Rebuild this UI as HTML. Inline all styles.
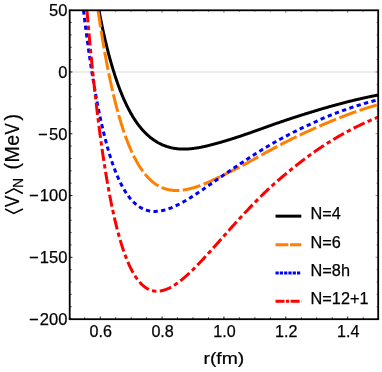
<!DOCTYPE html>
<html><head><meta charset="utf-8"><title>plot</title>
<style>html,body{margin:0;padding:0;background:#fff}svg{display:block;will-change:transform}text{font-family:"Liberation Sans",sans-serif;fill:#000;stroke:#000;stroke-width:0.25px}</style></head><body>
<svg width="382" height="372" viewBox="0 0 382 372">
<defs><clipPath id="c"><rect x="69.7" y="10.3" width="308.5" height="308.9"/></clipPath></defs>
<line x1="69.7" x2="378.2" y1="71.98" y2="71.98" stroke="#dcdcdc" stroke-width="1"/>
<g clip-path="url(#c)" fill="none" stroke-linejoin="round">
<path d="M98.94,10.30 L99.40,12.74 L99.87,15.15 L100.34,17.52 L100.80,19.85 L101.27,22.14 L101.74,24.40 L102.20,26.62 L102.67,28.80 L103.14,30.96 L103.61,33.07 L104.07,35.16 L104.54,37.21 L105.01,39.23 L105.47,41.22 L105.94,43.18 L106.41,45.10 L106.87,47.00 L107.34,48.87 L107.81,50.71 L108.27,52.52 L108.74,54.30 L109.21,56.06 L109.67,57.78 L110.14,59.48 L110.61,61.16 L111.08,62.81 L111.54,64.43 L112.01,66.03 L112.48,67.60 L112.94,69.15 L113.41,70.67 L113.88,72.17 L114.34,73.65 L114.81,75.10 L115.28,76.54 L115.74,77.95 L116.21,79.33 L116.68,80.70 L117.15,82.04 L117.61,83.37 L118.08,84.67 L118.55,85.95 L119.01,87.21 L119.48,88.45 L119.95,89.68 L120.41,90.88 L120.88,92.06 L121.35,93.23 L121.81,94.38 L122.28,95.50 L122.75,96.61 L123.21,97.71 L123.68,98.78 L124.15,99.84 L124.62,100.88 L125.08,101.90 L125.55,102.91 L126.02,103.90 L126.48,104.87 L126.95,105.83 L127.42,106.78 L127.88,107.70 L128.35,108.61 L128.82,109.51 L129.28,110.39 L129.75,111.26 L130.22,112.11 L130.68,112.95 L131.15,113.77 L131.62,114.58 L132.09,115.38 L132.55,116.16 L133.02,116.93 L133.49,117.69 L133.95,118.43 L134.42,119.16 L134.89,119.88 L135.35,120.58 L135.82,121.28 L136.29,121.96 L136.75,122.62 L137.22,123.28 L137.69,123.92 L138.15,124.56 L138.62,125.18 L139.09,125.79 L139.56,126.39 L140.02,126.97 L140.49,127.55 L140.96,128.12 L141.42,128.67 L141.89,129.22 L142.36,129.75 L142.82,130.28 L143.29,130.79 L143.76,131.29 L144.22,131.79 L144.69,132.27 L145.16,132.75 L145.63,133.22 L146.09,133.67 L146.56,134.12 L147.03,134.56 L147.49,134.99 L147.96,135.41 L148.43,135.82 L148.89,136.22 L149.36,136.62 L149.83,137.00 L150.29,137.38 L150.76,137.75 L151.23,138.12 L151.69,138.47 L152.16,138.82 L152.63,139.16 L153.10,139.50 L153.56,139.82 L154.03,140.14 L154.50,140.46 L154.96,140.76 L155.43,141.06 L155.90,141.36 L156.36,141.64 L156.83,141.92 L157.30,142.20 L157.76,142.47 L158.23,142.73 L158.70,142.98 L159.16,143.23 L159.63,143.47 L160.10,143.71 L160.57,143.94 L161.03,144.17 L161.50,144.39 L161.97,144.60 L162.43,144.81 L162.90,145.01 L163.37,145.21 L163.83,145.40 L164.30,145.59 L164.77,145.77 L165.23,145.94 L165.70,146.11 L166.17,146.28 L166.63,146.44 L167.10,146.59 L167.57,146.74 L168.04,146.88 L168.50,147.02 L168.97,147.16 L169.44,147.29 L169.90,147.41 L170.37,147.53 L170.84,147.65 L171.30,147.76 L171.77,147.86 L172.24,147.96 L172.70,148.06 L173.17,148.15 L173.64,148.24 L174.10,148.32 L174.57,148.40 L175.04,148.48 L175.51,148.55 L175.97,148.61 L176.44,148.67 L176.91,148.73 L177.37,148.78 L177.84,148.83 L178.31,148.88 L178.77,148.92 L179.24,148.95 L179.71,148.99 L180.17,149.01 L180.64,149.04 L181.11,149.06 L181.58,149.08 L182.04,149.09 L182.51,149.10 L182.98,149.10 L183.44,149.10 L183.91,149.10 L184.38,149.10 L184.84,149.09 L185.31,149.08 L185.78,149.06 L186.24,149.04 L186.71,149.02 L187.18,149.00 L187.64,148.97 L188.11,148.94 L188.58,148.91 L189.05,148.88 L189.51,148.84 L189.98,148.80 L190.45,148.76 L190.91,148.71 L191.38,148.67 L191.85,148.62 L192.31,148.57 L192.78,148.51 L193.25,148.46 L193.71,148.40 L194.18,148.34 L194.65,148.27 L195.11,148.21 L195.58,148.14 L196.05,148.07 L196.52,148.00 L196.98,147.92 L197.45,147.85 L197.92,147.77 L198.38,147.69 L198.85,147.61 L199.32,147.53 L199.78,147.44 L200.25,147.35 L200.72,147.27 L201.18,147.18 L201.65,147.08 L202.12,146.99 L202.58,146.89 L203.05,146.80 L203.52,146.70 L203.99,146.60 L204.45,146.49 L204.92,146.39 L205.39,146.29 L205.85,146.18 L206.32,146.07 L206.79,145.96 L207.25,145.85 L207.72,145.74 L208.19,145.62 L208.65,145.51 L209.12,145.39 L209.59,145.27 L210.05,145.16 L210.52,145.04 L210.99,144.91 L211.46,144.79 L211.92,144.67 L212.39,144.55 L212.86,144.42 L213.32,144.30 L213.79,144.17 L214.26,144.05 L214.72,143.92 L215.19,143.80 L215.66,143.67 L216.12,143.54 L216.59,143.41 L217.06,143.28 L217.53,143.15 L217.99,143.02 L218.46,142.89 L218.93,142.76 L219.39,142.62 L219.86,142.49 L220.33,142.36 L220.79,142.22 L221.26,142.09 L221.73,141.95 L222.19,141.82 L222.66,141.68 L223.13,141.54 L223.59,141.41 L224.06,141.27 L224.53,141.13 L225.00,140.99 L225.46,140.85 L225.93,140.71 L226.40,140.57 L226.86,140.43 L227.33,140.28 L227.80,140.14 L228.26,140.00 L228.73,139.86 L229.20,139.71 L229.66,139.57 L230.13,139.42 L230.60,139.28 L231.06,139.13 L231.53,138.99 L232.00,138.84 L232.47,138.69 L232.93,138.54 L233.40,138.39 L233.87,138.25 L234.33,138.10 L234.80,137.95 L235.27,137.80 L235.73,137.65 L236.20,137.49 L236.67,137.34 L237.13,137.19 L237.60,137.04 L238.07,136.88 L238.53,136.73 L239.00,136.58 L239.47,136.42 L239.94,136.27 L240.40,136.11 L240.87,135.96 L241.34,135.80 L241.80,135.64 L242.27,135.48 L242.74,135.33 L243.20,135.17 L243.67,135.01 L244.14,134.85 L244.60,134.69 L245.07,134.53 L245.54,134.37 L246.01,134.20 L246.47,134.04 L246.94,133.88 L247.41,133.72 L247.87,133.55 L248.34,133.39 L248.81,133.22 L249.27,133.06 L249.74,132.89 L250.21,132.73 L250.67,132.56 L251.14,132.39 L251.61,132.23 L252.07,132.06 L252.54,131.89 L253.01,131.73 L253.48,131.56 L253.94,131.39 L254.41,131.22 L254.88,131.06 L255.34,130.89 L255.81,130.72 L256.28,130.56 L256.74,130.39 L257.21,130.22 L257.68,130.06 L258.14,129.89 L258.61,129.72 L259.08,129.55 L259.54,129.39 L260.01,129.22 L260.48,129.05 L260.95,128.89 L261.41,128.72 L261.88,128.55 L262.35,128.39 L262.81,128.22 L263.28,128.05 L263.75,127.89 L264.21,127.72 L264.68,127.56 L265.15,127.39 L265.61,127.22 L266.08,127.06 L266.55,126.89 L267.01,126.73 L267.48,126.56 L267.95,126.40 L268.42,126.23 L268.88,126.07 L269.35,125.90 L269.82,125.74 L270.28,125.57 L270.75,125.41 L271.22,125.25 L271.68,125.08 L272.15,124.92 L272.62,124.75 L273.08,124.59 L273.55,124.43 L274.02,124.26 L274.48,124.10 L274.95,123.94 L275.42,123.78 L275.89,123.61 L276.35,123.45 L276.82,123.29 L277.29,123.13 L277.75,122.97 L278.22,122.81 L278.69,122.65 L279.15,122.48 L279.62,122.32 L280.09,122.16 L280.55,122.00 L281.02,121.84 L281.49,121.68 L281.96,121.52 L282.42,121.37 L282.89,121.21 L283.36,121.05 L283.82,120.89 L284.29,120.73 L284.76,120.57 L285.22,120.42 L285.69,120.26 L286.16,120.10 L286.62,119.94 L287.09,119.79 L287.56,119.63 L288.02,119.48 L288.49,119.32 L288.96,119.16 L289.43,119.01 L289.89,118.85 L290.36,118.70 L290.83,118.55 L291.29,118.39 L291.76,118.24 L292.23,118.08 L292.69,117.93 L293.16,117.78 L293.63,117.62 L294.09,117.47 L294.56,117.32 L295.03,117.17 L295.49,117.02 L295.96,116.87 L296.43,116.71 L296.90,116.56 L297.36,116.41 L297.83,116.26 L298.30,116.11 L298.76,115.97 L299.23,115.82 L299.70,115.67 L300.16,115.52 L300.63,115.37 L301.10,115.22 L301.56,115.08 L302.03,114.93 L302.50,114.78 L302.96,114.63 L303.43,114.49 L303.90,114.34 L304.37,114.20 L304.83,114.05 L305.30,113.91 L305.77,113.76 L306.23,113.62 L306.70,113.47 L307.17,113.33 L307.63,113.19 L308.10,113.04 L308.57,112.90 L309.03,112.76 L309.50,112.62 L309.97,112.48 L310.43,112.33 L310.90,112.19 L311.37,112.05 L311.84,111.91 L312.30,111.76 L312.77,111.62 L313.24,111.48 L313.70,111.33 L314.17,111.19 L314.64,111.05 L315.10,110.91 L315.57,110.76 L316.04,110.62 L316.50,110.48 L316.97,110.33 L317.44,110.19 L317.91,110.05 L318.37,109.91 L318.84,109.77 L319.31,109.63 L319.77,109.49 L320.24,109.35 L320.71,109.21 L321.17,109.07 L321.64,108.93 L322.11,108.80 L322.57,108.66 L323.04,108.52 L323.51,108.39 L323.97,108.25 L324.44,108.12 L324.91,107.98 L325.38,107.85 L325.84,107.71 L326.31,107.58 L326.78,107.45 L327.24,107.31 L327.71,107.18 L328.18,107.05 L328.64,106.91 L329.11,106.78 L329.58,106.65 L330.04,106.52 L330.51,106.39 L330.98,106.26 L331.44,106.12 L331.91,105.99 L332.38,105.86 L332.85,105.73 L333.31,105.61 L333.78,105.48 L334.25,105.35 L334.71,105.22 L335.18,105.09 L335.65,104.96 L336.11,104.84 L336.58,104.71 L337.05,104.58 L337.51,104.46 L337.98,104.33 L338.45,104.21 L338.91,104.08 L339.38,103.96 L339.85,103.83 L340.32,103.71 L340.78,103.58 L341.25,103.46 L341.72,103.34 L342.18,103.21 L342.65,103.09 L343.12,102.97 L343.58,102.85 L344.05,102.73 L344.52,102.61 L344.98,102.49 L345.45,102.37 L345.92,102.25 L346.39,102.13 L346.85,102.01 L347.32,101.89 L347.79,101.77 L348.25,101.65 L348.72,101.54 L349.19,101.42 L349.65,101.30 L350.12,101.19 L350.59,101.07 L351.05,100.96 L351.52,100.84 L351.99,100.73 L352.45,100.61 L352.92,100.50 L353.39,100.39 L353.86,100.27 L354.32,100.16 L354.79,100.05 L355.26,99.94 L355.72,99.83 L356.19,99.72 L356.66,99.61 L357.12,99.50 L357.59,99.39 L358.06,99.28 L358.52,99.17 L358.99,99.06 L359.46,98.96 L359.92,98.85 L360.39,98.74 L360.86,98.64 L361.33,98.53 L361.79,98.43 L362.26,98.32 L362.73,98.22 L363.19,98.11 L363.66,98.01 L364.13,97.91 L364.59,97.80 L365.06,97.70 L365.53,97.60 L365.99,97.50 L366.46,97.40 L366.93,97.30 L367.39,97.20 L367.86,97.10 L368.33,97.00 L368.80,96.90 L369.26,96.81 L369.73,96.71 L370.20,96.61 L370.66,96.52 L371.13,96.42 L371.60,96.32 L372.06,96.23 L372.53,96.13 L373.00,96.04 L373.46,95.95 L373.93,95.86 L374.40,95.76 L374.86,95.67 L375.33,95.58 L375.80,95.49 L376.27,95.40 L376.73,95.31 L377.20,95.22 L377.67,95.13 L378.13,95.04 L378.60,94.96" stroke="#000" stroke-width="3.0"/>
<path d="M98.03,10.30 L98.49,13.52 L98.96,16.69 L99.43,19.82 L99.90,22.90 L100.37,25.93 L100.84,28.93 L101.30,31.87 L101.77,34.78 L102.24,37.64 L102.71,40.46 L103.18,43.24 L103.65,45.98 L104.11,48.68 L104.58,51.34 L105.05,53.96 L105.52,56.54 L105.99,59.08 L106.46,61.59 L106.93,64.05 L107.39,66.48 L107.86,68.88 L108.33,71.23 L108.80,73.56 L109.27,75.84 L109.74,78.09 L110.20,80.31 L110.67,82.50 L111.14,84.65 L111.61,86.76 L112.08,88.85 L112.55,90.90 L113.01,92.92 L113.48,94.91 L113.95,96.87 L114.42,98.80 L114.89,100.70 L115.36,102.57 L115.82,104.41 L116.29,106.22 L116.76,108.00 L117.23,109.75 L117.70,111.48 L118.17,113.17 L118.64,114.84 L119.10,116.49 L119.57,118.10 L120.04,119.70 L120.51,121.26 L120.98,122.80 L121.45,124.31 L121.91,125.80 L122.38,127.27 L122.85,128.71 L123.32,130.12 L123.79,131.51 L124.26,132.88 L124.72,134.23 L125.19,135.55 L125.66,136.85 L126.13,138.13 L126.60,139.38 L127.07,140.62 L127.53,141.83 L128.00,143.02 L128.47,144.19 L128.94,145.34 L129.41,146.47 L129.88,147.58 L130.35,148.67 L130.81,149.75 L131.28,150.80 L131.75,151.83 L132.22,152.84 L132.69,153.84 L133.16,154.81 L133.62,155.77 L134.09,156.71 L134.56,157.63 L135.03,158.54 L135.50,159.43 L135.97,160.30 L136.43,161.15 L136.90,161.99 L137.37,162.81 L137.84,163.62 L138.31,164.41 L138.78,165.18 L139.25,165.94 L139.71,166.68 L140.18,167.41 L140.65,168.12 L141.12,168.82 L141.59,169.50 L142.06,170.17 L142.52,170.83 L142.99,171.47 L143.46,172.09 L143.93,172.71 L144.40,173.31 L144.87,173.89 L145.33,174.47 L145.80,175.03 L146.27,175.58 L146.74,176.11 L147.21,176.64 L147.68,177.15 L148.14,177.64 L148.61,178.13 L149.08,178.61 L149.55,179.07 L150.02,179.52 L150.49,179.96 L150.96,180.39 L151.42,180.81 L151.89,181.22 L152.36,181.61 L152.83,182.00 L153.30,182.38 L153.77,182.74 L154.23,183.10 L154.70,183.44 L155.17,183.78 L155.64,184.10 L156.11,184.42 L156.58,184.72 L157.04,185.02 L157.51,185.31 L157.98,185.59 L158.45,185.86 L158.92,186.12 L159.39,186.37 L159.85,186.61 L160.32,186.85 L160.79,187.08 L161.26,187.29 L161.73,187.50 L162.20,187.71 L162.67,187.90 L163.13,188.09 L163.60,188.26 L164.07,188.43 L164.54,188.60 L165.01,188.75 L165.48,188.90 L165.94,189.04 L166.41,189.18 L166.88,189.30 L167.35,189.42 L167.82,189.54 L168.29,189.65 L168.75,189.75 L169.22,189.84 L169.69,189.93 L170.16,190.01 L170.63,190.08 L171.10,190.15 L171.57,190.21 L172.03,190.27 L172.50,190.32 L172.97,190.36 L173.44,190.40 L173.91,190.43 L174.38,190.46 L174.84,190.48 L175.31,190.50 L175.78,190.51 L176.25,190.52 L176.72,190.52 L177.19,190.51 L177.65,190.51 L178.12,190.49 L178.59,190.47 L179.06,190.45 L179.53,190.42 L180.00,190.39 L180.46,190.35 L180.93,190.31 L181.40,190.26 L181.87,190.21 L182.34,190.15 L182.81,190.09 L183.28,190.03 L183.74,189.96 L184.21,189.89 L184.68,189.82 L185.15,189.74 L185.62,189.66 L186.09,189.57 L186.55,189.48 L187.02,189.39 L187.49,189.29 L187.96,189.19 L188.43,189.09 L188.90,188.98 L189.36,188.87 L189.83,188.76 L190.30,188.64 L190.77,188.52 L191.24,188.40 L191.71,188.27 L192.17,188.14 L192.64,188.01 L193.11,187.87 L193.58,187.74 L194.05,187.60 L194.52,187.45 L194.99,187.31 L195.45,187.16 L195.92,187.01 L196.39,186.85 L196.86,186.70 L197.33,186.54 L197.80,186.38 L198.26,186.21 L198.73,186.05 L199.20,185.88 L199.67,185.71 L200.14,185.53 L200.61,185.36 L201.07,185.18 L201.54,185.00 L202.01,184.82 L202.48,184.64 L202.95,184.45 L203.42,184.27 L203.88,184.08 L204.35,183.89 L204.82,183.69 L205.29,183.50 L205.76,183.30 L206.23,183.10 L206.70,182.90 L207.16,182.70 L207.63,182.50 L208.10,182.29 L208.57,182.09 L209.04,181.88 L209.51,181.67 L209.97,181.46 L210.44,181.25 L210.91,181.03 L211.38,180.82 L211.85,180.60 L212.32,180.38 L212.78,180.16 L213.25,179.94 L213.72,179.72 L214.19,179.50 L214.66,179.27 L215.13,179.05 L215.60,178.82 L216.06,178.60 L216.53,178.37 L217.00,178.15 L217.47,177.92 L217.94,177.70 L218.41,177.47 L218.87,177.24 L219.34,177.02 L219.81,176.79 L220.28,176.57 L220.75,176.34 L221.22,176.12 L221.68,175.89 L222.15,175.66 L222.62,175.44 L223.09,175.21 L223.56,174.99 L224.03,174.76 L224.49,174.53 L224.96,174.31 L225.43,174.08 L225.90,173.85 L226.37,173.63 L226.84,173.40 L227.31,173.17 L227.77,172.94 L228.24,172.71 L228.71,172.48 L229.18,172.26 L229.65,172.03 L230.12,171.80 L230.58,171.57 L231.05,171.34 L231.52,171.10 L231.99,170.87 L232.46,170.64 L232.93,170.41 L233.39,170.18 L233.86,169.94 L234.33,169.71 L234.80,169.48 L235.27,169.24 L235.74,169.01 L236.20,168.77 L236.67,168.53 L237.14,168.30 L237.61,168.06 L238.08,167.82 L238.55,167.58 L239.02,167.34 L239.48,167.10 L239.95,166.86 L240.42,166.61 L240.89,166.37 L241.36,166.13 L241.83,165.88 L242.29,165.64 L242.76,165.39 L243.23,165.14 L243.70,164.89 L244.17,164.64 L244.64,164.39 L245.10,164.14 L245.57,163.89 L246.04,163.63 L246.51,163.38 L246.98,163.12 L247.45,162.86 L247.92,162.61 L248.38,162.35 L248.85,162.09 L249.32,161.82 L249.79,161.56 L250.26,161.29 L250.73,161.03 L251.19,160.77 L251.66,160.50 L252.13,160.24 L252.60,159.97 L253.07,159.71 L253.54,159.44 L254.00,159.18 L254.47,158.92 L254.94,158.65 L255.41,158.39 L255.88,158.13 L256.35,157.86 L256.81,157.60 L257.28,157.34 L257.75,157.08 L258.22,156.81 L258.69,156.55 L259.16,156.29 L259.63,156.03 L260.09,155.77 L260.56,155.51 L261.03,155.25 L261.50,154.99 L261.97,154.73 L262.44,154.47 L262.90,154.21 L263.37,153.95 L263.84,153.69 L264.31,153.43 L264.78,153.17 L265.25,152.92 L265.71,152.66 L266.18,152.40 L266.65,152.14 L267.12,151.89 L267.59,151.63 L268.06,151.38 L268.52,151.12 L268.99,150.87 L269.46,150.61 L269.93,150.36 L270.40,150.10 L270.87,149.85 L271.34,149.60 L271.80,149.34 L272.27,149.09 L272.74,148.84 L273.21,148.59 L273.68,148.34 L274.15,148.09 L274.61,147.84 L275.08,147.59 L275.55,147.34 L276.02,147.09 L276.49,146.84 L276.96,146.59 L277.42,146.34 L277.89,146.10 L278.36,145.85 L278.83,145.60 L279.30,145.36 L279.77,145.11 L280.23,144.87 L280.70,144.62 L281.17,144.38 L281.64,144.14 L282.11,143.89 L282.58,143.65 L283.05,143.41 L283.51,143.17 L283.98,142.93 L284.45,142.69 L284.92,142.45 L285.39,142.21 L285.86,141.97 L286.32,141.73 L286.79,141.49 L287.26,141.25 L287.73,141.02 L288.20,140.78 L288.67,140.55 L289.13,140.31 L289.60,140.08 L290.07,139.84 L290.54,139.61 L291.01,139.37 L291.48,139.14 L291.95,138.91 L292.41,138.68 L292.88,138.45 L293.35,138.22 L293.82,137.99 L294.29,137.76 L294.76,137.53 L295.22,137.30 L295.69,137.07 L296.16,136.84 L296.63,136.62 L297.10,136.39 L297.57,136.17 L298.03,135.94 L298.50,135.72 L298.97,135.49 L299.44,135.27 L299.91,135.05 L300.38,134.82 L300.84,134.60 L301.31,134.38 L301.78,134.16 L302.25,133.94 L302.72,133.72 L303.19,133.50 L303.66,133.28 L304.12,133.07 L304.59,132.85 L305.06,132.63 L305.53,132.42 L306.00,132.20 L306.47,131.99 L306.93,131.77 L307.40,131.56 L307.87,131.35 L308.34,131.13 L308.81,130.92 L309.28,130.71 L309.74,130.50 L310.21,130.29 L310.68,130.08 L311.15,129.87 L311.62,129.66 L312.09,129.45 L312.55,129.24 L313.02,129.03 L313.49,128.82 L313.96,128.61 L314.43,128.40 L314.90,128.19 L315.37,127.98 L315.83,127.77 L316.30,127.56 L316.77,127.35 L317.24,127.15 L317.71,126.94 L318.18,126.73 L318.64,126.53 L319.11,126.32 L319.58,126.12 L320.05,125.91 L320.52,125.71 L320.99,125.51 L321.45,125.30 L321.92,125.10 L322.39,124.90 L322.86,124.70 L323.33,124.50 L323.80,124.30 L324.27,124.10 L324.73,123.90 L325.20,123.70 L325.67,123.50 L326.14,123.30 L326.61,123.11 L327.08,122.91 L327.54,122.71 L328.01,122.52 L328.48,122.32 L328.95,122.12 L329.42,121.93 L329.89,121.73 L330.35,121.54 L330.82,121.34 L331.29,121.15 L331.76,120.95 L332.23,120.76 L332.70,120.57 L333.16,120.38 L333.63,120.18 L334.10,119.99 L334.57,119.80 L335.04,119.61 L335.51,119.42 L335.98,119.23 L336.44,119.04 L336.91,118.85 L337.38,118.66 L337.85,118.48 L338.32,118.29 L338.79,118.10 L339.25,117.92 L339.72,117.73 L340.19,117.55 L340.66,117.36 L341.13,117.18 L341.60,116.99 L342.06,116.81 L342.53,116.63 L343.00,116.44 L343.47,116.26 L343.94,116.08 L344.41,115.90 L344.87,115.72 L345.34,115.54 L345.81,115.36 L346.28,115.18 L346.75,115.01 L347.22,114.83 L347.69,114.65 L348.15,114.48 L348.62,114.30 L349.09,114.13 L349.56,113.95 L350.03,113.78 L350.50,113.61 L350.96,113.43 L351.43,113.26 L351.90,113.09 L352.37,112.92 L352.84,112.75 L353.31,112.58 L353.77,112.41 L354.24,112.25 L354.71,112.08 L355.18,111.91 L355.65,111.75 L356.12,111.58 L356.58,111.42 L357.05,111.25 L357.52,111.09 L357.99,110.93 L358.46,110.77 L358.93,110.61 L359.40,110.45 L359.86,110.29 L360.33,110.13 L360.80,109.97 L361.27,109.81 L361.74,109.66 L362.21,109.50 L362.67,109.35 L363.14,109.19 L363.61,109.04 L364.08,108.89 L364.55,108.73 L365.02,108.58 L365.48,108.43 L365.95,108.28 L366.42,108.13 L366.89,107.98 L367.36,107.84 L367.83,107.69 L368.30,107.55 L368.76,107.40 L369.23,107.26 L369.70,107.11 L370.17,106.97 L370.64,106.83 L371.11,106.69 L371.57,106.55 L372.04,106.41 L372.51,106.27 L372.98,106.13 L373.45,106.00 L373.92,105.86 L374.38,105.73 L374.85,105.59 L375.32,105.46 L375.79,105.33 L376.26,105.19 L376.73,105.06 L377.19,104.93 L377.66,104.81 L378.13,104.68 L378.60,104.55" stroke="#ff8000" stroke-width="3.0" stroke-dasharray="18.2 3.4" stroke-dashoffset="1.0"/>
<path d="M83.51,10.30 L84.00,14.44 L84.49,18.50 L84.98,22.50 L85.48,26.43 L85.97,30.30 L86.46,34.10 L86.95,37.84 L87.45,41.52 L87.94,45.13 L88.43,48.69 L88.92,52.18 L89.42,55.61 L89.91,58.99 L90.40,62.31 L90.90,65.57 L91.39,68.77 L91.88,71.92 L92.37,75.02 L92.87,78.06 L93.36,81.05 L93.85,83.99 L94.34,86.88 L94.84,89.71 L95.33,92.50 L95.82,95.24 L96.31,97.93 L96.81,100.57 L97.30,103.16 L97.79,105.71 L98.28,108.21 L98.78,110.67 L99.27,113.08 L99.76,115.45 L100.26,117.78 L100.75,120.06 L101.24,122.31 L101.73,124.51 L102.23,126.67 L102.72,128.79 L103.21,130.87 L103.70,132.91 L104.20,134.92 L104.69,136.88 L105.18,138.81 L105.67,140.70 L106.17,142.56 L106.66,144.38 L107.15,146.17 L107.64,147.92 L108.14,149.63 L108.63,151.32 L109.12,152.97 L109.62,154.58 L110.11,156.17 L110.60,157.72 L111.09,159.24 L111.59,160.74 L112.08,162.20 L112.57,163.63 L113.06,165.03 L113.56,166.40 L114.05,167.75 L114.54,169.06 L115.03,170.35 L115.53,171.61 L116.02,172.85 L116.51,174.06 L117.01,175.24 L117.50,176.39 L117.99,177.52 L118.48,178.63 L118.98,179.71 L119.47,180.76 L119.96,181.80 L120.45,182.80 L120.95,183.79 L121.44,184.75 L121.93,185.69 L122.42,186.61 L122.92,187.51 L123.41,188.38 L123.90,189.23 L124.39,190.06 L124.89,190.88 L125.38,191.67 L125.87,192.44 L126.37,193.19 L126.86,193.92 L127.35,194.63 L127.84,195.33 L128.34,196.00 L128.83,196.66 L129.32,197.30 L129.81,197.92 L130.31,198.52 L130.80,199.11 L131.29,199.68 L131.78,200.23 L132.28,200.77 L132.77,201.29 L133.26,201.79 L133.76,202.28 L134.25,202.76 L134.74,203.21 L135.23,203.66 L135.73,204.09 L136.22,204.50 L136.71,204.90 L137.20,205.28 L137.70,205.66 L138.19,206.01 L138.68,206.36 L139.17,206.69 L139.67,207.01 L140.16,207.31 L140.65,207.61 L141.14,207.89 L141.64,208.15 L142.13,208.41 L142.62,208.65 L143.12,208.89 L143.61,209.11 L144.10,209.32 L144.59,209.52 L145.09,209.70 L145.58,209.88 L146.07,210.05 L146.56,210.20 L147.06,210.35 L147.55,210.48 L148.04,210.61 L148.53,210.72 L149.03,210.83 L149.52,210.93 L150.01,211.01 L150.51,211.09 L151.00,211.16 L151.49,211.22 L151.98,211.27 L152.48,211.32 L152.97,211.35 L153.46,211.38 L153.95,211.40 L154.45,211.41 L154.94,211.41 L155.43,211.40 L155.92,211.39 L156.42,211.37 L156.91,211.34 L157.40,211.31 L157.89,211.26 L158.39,211.22 L158.88,211.16 L159.37,211.10 L159.87,211.03 L160.36,210.95 L160.85,210.87 L161.34,210.78 L161.84,210.68 L162.33,210.58 L162.82,210.48 L163.31,210.36 L163.81,210.24 L164.30,210.12 L164.79,209.99 L165.28,209.86 L165.78,209.72 L166.27,209.57 L166.76,209.42 L167.26,209.26 L167.75,209.10 L168.24,208.93 L168.73,208.76 L169.23,208.59 L169.72,208.41 L170.21,208.22 L170.70,208.03 L171.20,207.84 L171.69,207.64 L172.18,207.44 L172.67,207.24 L173.17,207.03 L173.66,206.81 L174.15,206.59 L174.64,206.37 L175.14,206.15 L175.63,205.92 L176.12,205.69 L176.62,205.45 L177.11,205.21 L177.60,204.97 L178.09,204.72 L178.59,204.47 L179.08,204.22 L179.57,203.96 L180.06,203.70 L180.56,203.44 L181.05,203.18 L181.54,202.91 L182.03,202.64 L182.53,202.37 L183.02,202.10 L183.51,201.82 L184.01,201.54 L184.50,201.26 L184.99,200.97 L185.48,200.69 L185.98,200.40 L186.47,200.11 L186.96,199.82 L187.45,199.52 L187.95,199.23 L188.44,198.93 L188.93,198.63 L189.42,198.33 L189.92,198.02 L190.41,197.72 L190.90,197.41 L191.39,197.10 L191.89,196.79 L192.38,196.48 L192.87,196.17 L193.37,195.85 L193.86,195.53 L194.35,195.22 L194.84,194.90 L195.34,194.58 L195.83,194.26 L196.32,193.93 L196.81,193.61 L197.31,193.28 L197.80,192.96 L198.29,192.63 L198.78,192.30 L199.28,191.97 L199.77,191.64 L200.26,191.31 L200.75,190.98 L201.25,190.65 L201.74,190.31 L202.23,189.98 L202.73,189.64 L203.22,189.31 L203.71,188.97 L204.20,188.63 L204.70,188.29 L205.19,187.95 L205.68,187.61 L206.17,187.27 L206.67,186.93 L207.16,186.59 L207.65,186.25 L208.14,185.91 L208.64,185.56 L209.13,185.22 L209.62,184.88 L210.12,184.53 L210.61,184.19 L211.10,183.84 L211.59,183.50 L212.09,183.15 L212.58,182.81 L213.07,182.46 L213.56,182.12 L214.06,181.77 L214.55,181.42 L215.04,181.08 L215.53,180.73 L216.03,180.38 L216.52,180.04 L217.01,179.69 L217.50,179.34 L218.00,179.00 L218.49,178.65 L218.98,178.31 L219.48,177.96 L219.97,177.62 L220.46,177.28 L220.95,176.93 L221.45,176.59 L221.94,176.25 L222.43,175.90 L222.92,175.56 L223.42,175.22 L223.91,174.88 L224.40,174.54 L224.89,174.19 L225.39,173.85 L225.88,173.51 L226.37,173.17 L226.87,172.84 L227.36,172.50 L227.85,172.16 L228.34,171.82 L228.84,171.48 L229.33,171.15 L229.82,170.81 L230.31,170.47 L230.81,170.14 L231.30,169.80 L231.79,169.47 L232.28,169.13 L232.78,168.80 L233.27,168.46 L233.76,168.13 L234.25,167.80 L234.75,167.46 L235.24,167.13 L235.73,166.80 L236.23,166.47 L236.72,166.14 L237.21,165.81 L237.70,165.48 L238.20,165.15 L238.69,164.82 L239.18,164.49 L239.67,164.16 L240.17,163.83 L240.66,163.50 L241.15,163.18 L241.64,162.85 L242.14,162.52 L242.63,162.20 L243.12,161.87 L243.62,161.54 L244.11,161.22 L244.60,160.89 L245.09,160.57 L245.59,160.25 L246.08,159.92 L246.57,159.60 L247.06,159.28 L247.56,158.95 L248.05,158.63 L248.54,158.31 L249.03,157.99 L249.53,157.67 L250.02,157.35 L250.51,157.03 L251.00,156.71 L251.50,156.39 L251.99,156.07 L252.48,155.75 L252.98,155.43 L253.47,155.12 L253.96,154.80 L254.45,154.49 L254.95,154.17 L255.44,153.86 L255.93,153.55 L256.42,153.24 L256.92,152.93 L257.41,152.62 L257.90,152.31 L258.39,152.00 L258.89,151.69 L259.38,151.39 L259.87,151.08 L260.37,150.78 L260.86,150.47 L261.35,150.17 L261.84,149.87 L262.34,149.56 L262.83,149.26 L263.32,148.96 L263.81,148.66 L264.31,148.37 L264.80,148.07 L265.29,147.77 L265.78,147.48 L266.28,147.18 L266.77,146.89 L267.26,146.59 L267.75,146.30 L268.25,146.01 L268.74,145.72 L269.23,145.43 L269.73,145.14 L270.22,144.85 L270.71,144.56 L271.20,144.28 L271.70,143.99 L272.19,143.71 L272.68,143.42 L273.17,143.14 L273.67,142.86 L274.16,142.57 L274.65,142.29 L275.14,142.01 L275.64,141.73 L276.13,141.46 L276.62,141.18 L277.12,140.90 L277.61,140.63 L278.10,140.35 L278.59,140.08 L279.09,139.81 L279.58,139.53 L280.07,139.26 L280.56,138.99 L281.06,138.72 L281.55,138.46 L282.04,138.19 L282.53,137.92 L283.03,137.65 L283.52,137.39 L284.01,137.13 L284.50,136.86 L285.00,136.60 L285.49,136.34 L285.98,136.08 L286.48,135.82 L286.97,135.56 L287.46,135.30 L287.95,135.04 L288.45,134.79 L288.94,134.53 L289.43,134.27 L289.92,134.02 L290.42,133.77 L290.91,133.52 L291.40,133.26 L291.89,133.01 L292.39,132.76 L292.88,132.51 L293.37,132.27 L293.86,132.02 L294.36,131.77 L294.85,131.53 L295.34,131.28 L295.84,131.04 L296.33,130.80 L296.82,130.55 L297.31,130.31 L297.81,130.07 L298.30,129.83 L298.79,129.59 L299.28,129.36 L299.78,129.12 L300.27,128.88 L300.76,128.65 L301.25,128.41 L301.75,128.18 L302.24,127.95 L302.73,127.71 L303.23,127.48 L303.72,127.25 L304.21,127.02 L304.70,126.79 L305.20,126.56 L305.69,126.34 L306.18,126.11 L306.67,125.88 L307.17,125.66 L307.66,125.43 L308.15,125.21 L308.64,124.99 L309.14,124.77 L309.63,124.55 L310.12,124.33 L310.61,124.10 L311.11,123.88 L311.60,123.65 L312.09,123.42 L312.59,123.19 L313.08,122.95 L313.57,122.72 L314.06,122.48 L314.56,122.25 L315.05,122.01 L315.54,121.77 L316.03,121.53 L316.53,121.29 L317.02,121.06 L317.51,120.82 L318.00,120.59 L318.50,120.35 L318.99,120.12 L319.48,119.89 L319.98,119.67 L320.47,119.44 L320.96,119.22 L321.45,119.00 L321.95,118.79 L322.44,118.58 L322.93,118.37 L323.42,118.16 L323.92,117.95 L324.41,117.74 L324.90,117.53 L325.39,117.33 L325.89,117.12 L326.38,116.92 L326.87,116.71 L327.36,116.51 L327.86,116.31 L328.35,116.10 L328.84,115.90 L329.34,115.70 L329.83,115.50 L330.32,115.31 L330.81,115.11 L331.31,114.91 L331.80,114.72 L332.29,114.52 L332.78,114.33 L333.28,114.13 L333.77,113.94 L334.26,113.75 L334.75,113.56 L335.25,113.37 L335.74,113.18 L336.23,112.99 L336.73,112.80 L337.22,112.62 L337.71,112.43 L338.20,112.24 L338.70,112.06 L339.19,111.88 L339.68,111.69 L340.17,111.51 L340.67,111.33 L341.16,111.15 L341.65,110.97 L342.14,110.79 L342.64,110.61 L343.13,110.43 L343.62,110.26 L344.11,110.08 L344.61,109.91 L345.10,109.73 L345.59,109.56 L346.09,109.39 L346.58,109.21 L347.07,109.04 L347.56,108.87 L348.06,108.70 L348.55,108.53 L349.04,108.36 L349.53,108.20 L350.03,108.03 L350.52,107.87 L351.01,107.70 L351.50,107.54 L352.00,107.37 L352.49,107.21 L352.98,107.05 L353.48,106.89 L353.97,106.73 L354.46,106.57 L354.95,106.41 L355.45,106.25 L355.94,106.09 L356.43,105.94 L356.92,105.78 L357.42,105.62 L357.91,105.47 L358.40,105.32 L358.89,105.16 L359.39,105.01 L359.88,104.86 L360.37,104.71 L360.86,104.56 L361.36,104.41 L361.85,104.26 L362.34,104.11 L362.84,103.97 L363.33,103.82 L363.82,103.68 L364.31,103.53 L364.81,103.39 L365.30,103.24 L365.79,103.10 L366.28,102.96 L366.78,102.82 L367.27,102.68 L367.76,102.54 L368.25,102.40 L368.75,102.26 L369.24,102.12 L369.73,101.99 L370.23,101.85 L370.72,101.72 L371.21,101.58 L371.70,101.45 L372.20,101.31 L372.69,101.18 L373.18,101.05 L373.67,100.92 L374.17,100.79 L374.66,100.66 L375.15,100.53 L375.64,100.40 L376.14,100.28 L376.63,100.15 L377.12,100.02 L377.61,99.90 L378.11,99.77 L378.60,99.65" stroke="#0000ff" stroke-width="3.0" stroke-dasharray="4.3 3.39" stroke-dashoffset="0"/>
<path d="M86.95,10.30 L87.44,15.96 L87.93,21.53 L88.41,27.00 L88.90,32.40 L89.39,37.70 L89.87,42.92 L90.36,48.06 L90.85,53.11 L91.34,58.08 L91.82,62.97 L92.31,67.78 L92.80,72.52 L93.28,77.17 L93.77,81.75 L94.26,86.25 L94.74,90.68 L95.23,95.04 L95.72,99.32 L96.20,103.53 L96.69,107.67 L97.18,111.74 L97.66,115.75 L98.15,119.68 L98.64,123.55 L99.13,127.35 L99.61,131.09 L100.10,134.77 L100.59,138.38 L101.07,141.92 L101.56,145.41 L102.05,148.84 L102.53,152.20 L103.02,155.51 L103.51,158.76 L103.99,161.95 L104.48,165.09 L104.97,168.17 L105.46,171.19 L105.94,174.16 L106.43,177.08 L106.92,179.94 L107.40,182.75 L107.89,185.51 L108.38,188.22 L108.86,190.87 L109.35,193.48 L109.84,196.04 L110.32,198.56 L110.81,201.02 L111.30,203.44 L111.78,205.81 L112.27,208.14 L112.76,210.42 L113.25,212.65 L113.73,214.85 L114.22,217.00 L114.71,219.11 L115.19,221.17 L115.68,223.20 L116.17,225.18 L116.65,227.13 L117.14,229.03 L117.63,230.89 L118.11,232.72 L118.60,234.51 L119.09,236.26 L119.57,237.97 L120.06,239.65 L120.55,241.29 L121.04,242.90 L121.52,244.47 L122.01,246.01 L122.50,247.51 L122.98,248.98 L123.47,250.42 L123.96,251.82 L124.44,253.19 L124.93,254.53 L125.42,255.84 L125.90,257.12 L126.39,258.37 L126.88,259.58 L127.37,260.77 L127.85,261.93 L128.34,263.06 L128.83,264.16 L129.31,265.24 L129.80,266.28 L130.29,267.30 L130.77,268.30 L131.26,269.26 L131.75,270.20 L132.23,271.12 L132.72,272.01 L133.21,272.87 L133.69,273.71 L134.18,274.53 L134.67,275.32 L135.16,276.09 L135.64,276.84 L136.13,277.56 L136.62,278.26 L137.10,278.94 L137.59,279.60 L138.08,280.23 L138.56,280.85 L139.05,281.44 L139.54,282.01 L140.02,282.57 L140.51,283.10 L141.00,283.61 L141.48,284.10 L141.97,284.58 L142.46,285.03 L142.95,285.47 L143.43,285.89 L143.92,286.29 L144.41,286.67 L144.89,287.04 L145.38,287.39 L145.87,287.72 L146.35,288.03 L146.84,288.33 L147.33,288.61 L147.81,288.88 L148.30,289.13 L148.79,289.37 L149.28,289.59 L149.76,289.79 L150.25,289.98 L150.74,290.16 L151.22,290.32 L151.71,290.47 L152.20,290.60 L152.68,290.72 L153.17,290.83 L153.66,290.92 L154.14,291.00 L154.63,291.07 L155.12,291.12 L155.60,291.16 L156.09,291.19 L156.58,291.21 L157.07,291.22 L157.55,291.21 L158.04,291.20 L158.53,291.17 L159.01,291.13 L159.50,291.08 L159.99,291.02 L160.47,290.95 L160.96,290.87 L161.45,290.77 L161.93,290.67 L162.42,290.56 L162.91,290.44 L163.39,290.31 L163.88,290.17 L164.37,290.02 L164.86,289.86 L165.34,289.69 L165.83,289.51 L166.32,289.33 L166.80,289.13 L167.29,288.93 L167.78,288.72 L168.26,288.50 L168.75,288.28 L169.24,288.04 L169.72,287.80 L170.21,287.55 L170.70,287.30 L171.19,287.03 L171.67,286.76 L172.16,286.49 L172.65,286.20 L173.13,285.91 L173.62,285.61 L174.11,285.31 L174.59,285.00 L175.08,284.68 L175.57,284.36 L176.05,284.03 L176.54,283.69 L177.03,283.35 L177.51,283.01 L178.00,282.65 L178.49,282.30 L178.98,281.93 L179.46,281.56 L179.95,281.19 L180.44,280.81 L180.92,280.43 L181.41,280.04 L181.90,279.65 L182.38,279.25 L182.87,278.85 L183.36,278.44 L183.84,278.03 L184.33,277.62 L184.82,277.20 L185.30,276.77 L185.79,276.34 L186.28,275.91 L186.77,275.48 L187.25,275.04 L187.74,274.60 L188.23,274.15 L188.71,273.70 L189.20,273.25 L189.69,272.79 L190.17,272.33 L190.66,271.87 L191.15,271.40 L191.63,270.93 L192.12,270.46 L192.61,269.98 L193.10,269.50 L193.58,269.02 L194.07,268.54 L194.56,268.05 L195.04,267.56 L195.53,267.07 L196.02,266.58 L196.50,266.08 L196.99,265.58 L197.48,265.08 L197.96,264.58 L198.45,264.08 L198.94,263.57 L199.42,263.06 L199.91,262.55 L200.40,262.04 L200.89,261.52 L201.37,261.00 L201.86,260.49 L202.35,259.97 L202.83,259.44 L203.32,258.92 L203.81,258.40 L204.29,257.87 L204.78,257.34 L205.27,256.81 L205.75,256.28 L206.24,255.75 L206.73,255.22 L207.21,254.69 L207.70,254.15 L208.19,253.61 L208.68,253.08 L209.16,252.54 L209.65,252.00 L210.14,251.46 L210.62,250.92 L211.11,250.38 L211.60,249.84 L212.08,249.29 L212.57,248.75 L213.06,248.21 L213.54,247.66 L214.03,247.11 L214.52,246.57 L215.01,246.02 L215.49,245.48 L215.98,244.93 L216.47,244.38 L216.95,243.83 L217.44,243.28 L217.93,242.74 L218.41,242.19 L218.90,241.64 L219.39,241.09 L219.87,240.54 L220.36,239.99 L220.85,239.44 L221.33,238.90 L221.82,238.35 L222.31,237.80 L222.80,237.25 L223.28,236.70 L223.77,236.15 L224.26,235.60 L224.74,235.06 L225.23,234.51 L225.72,233.96 L226.20,233.41 L226.69,232.87 L227.18,232.32 L227.66,231.78 L228.15,231.23 L228.64,230.68 L229.12,230.14 L229.61,229.60 L230.10,229.05 L230.59,228.51 L231.07,227.97 L231.56,227.42 L232.05,226.88 L232.53,226.34 L233.02,225.80 L233.51,225.26 L233.99,224.72 L234.48,224.18 L234.97,223.64 L235.45,223.11 L235.94,222.57 L236.43,222.03 L236.92,221.50 L237.40,220.96 L237.89,220.43 L238.38,219.90 L238.86,219.37 L239.35,218.83 L239.84,218.30 L240.32,217.77 L240.81,217.25 L241.30,216.72 L241.78,216.19 L242.27,215.67 L242.76,215.14 L243.24,214.62 L243.73,214.09 L244.22,213.57 L244.71,213.05 L245.19,212.53 L245.68,212.01 L246.17,211.49 L246.65,210.97 L247.14,210.46 L247.63,209.94 L248.11,209.43 L248.60,208.92 L249.09,208.40 L249.57,207.89 L250.06,207.38 L250.55,206.87 L251.03,206.37 L251.52,205.86 L252.01,205.35 L252.50,204.85 L252.98,204.35 L253.47,203.85 L253.96,203.34 L254.44,202.85 L254.93,202.35 L255.42,201.85 L255.90,201.35 L256.39,200.86 L256.88,200.37 L257.36,199.87 L257.85,199.38 L258.34,198.89 L258.83,198.40 L259.31,197.92 L259.80,197.43 L260.29,196.94 L260.77,196.46 L261.26,195.98 L261.75,195.50 L262.23,195.02 L262.72,194.55 L263.21,194.07 L263.69,193.60 L264.18,193.13 L264.67,192.66 L265.15,192.20 L265.64,191.73 L266.13,191.27 L266.62,190.81 L267.10,190.35 L267.59,189.89 L268.08,189.44 L268.56,188.99 L269.05,188.53 L269.54,188.08 L270.02,187.63 L270.51,187.19 L271.00,186.74 L271.48,186.30 L271.97,185.86 L272.46,185.41 L272.95,184.98 L273.43,184.54 L273.92,184.10 L274.41,183.67 L274.89,183.24 L275.38,182.80 L275.87,182.37 L276.35,181.95 L276.84,181.52 L277.33,181.09 L277.81,180.67 L278.30,180.25 L278.79,179.82 L279.27,179.40 L279.76,178.99 L280.25,178.57 L280.74,178.15 L281.22,177.74 L281.71,177.32 L282.20,176.91 L282.68,176.50 L283.17,176.09 L283.66,175.68 L284.14,175.27 L284.63,174.87 L285.12,174.46 L285.60,174.06 L286.09,173.65 L286.58,173.25 L287.06,172.85 L287.55,172.45 L288.04,172.05 L288.53,171.66 L289.01,171.26 L289.50,170.86 L289.99,170.47 L290.47,170.07 L290.96,169.68 L291.45,169.29 L291.93,168.90 L292.42,168.51 L292.91,168.12 L293.39,167.73 L293.88,167.34 L294.37,166.95 L294.86,166.57 L295.34,166.18 L295.83,165.79 L296.32,165.41 L296.80,165.03 L297.29,164.64 L297.78,164.26 L298.26,163.88 L298.75,163.50 L299.24,163.12 L299.72,162.74 L300.21,162.36 L300.70,161.98 L301.18,161.60 L301.67,161.23 L302.16,160.85 L302.65,160.48 L303.13,160.11 L303.62,159.73 L304.11,159.37 L304.59,159.00 L305.08,158.63 L305.57,158.27 L306.05,157.90 L306.54,157.54 L307.03,157.18 L307.51,156.82 L308.00,156.46 L308.49,156.10 L308.97,155.74 L309.46,155.39 L309.95,155.03 L310.44,154.68 L310.92,154.33 L311.41,153.98 L311.90,153.63 L312.38,153.28 L312.87,152.94 L313.36,152.59 L313.84,152.25 L314.33,151.91 L314.82,151.57 L315.30,151.23 L315.79,150.89 L316.28,150.55 L316.77,150.21 L317.25,149.88 L317.74,149.54 L318.23,149.21 L318.71,148.88 L319.20,148.55 L319.69,148.22 L320.17,147.90 L320.66,147.57 L321.15,147.25 L321.63,146.92 L322.12,146.60 L322.61,146.28 L323.09,145.96 L323.58,145.64 L324.07,145.32 L324.56,145.01 L325.04,144.69 L325.53,144.38 L326.02,144.07 L326.50,143.75 L326.99,143.44 L327.48,143.14 L327.96,142.83 L328.45,142.52 L328.94,142.22 L329.42,141.91 L329.91,141.61 L330.40,141.31 L330.88,141.01 L331.37,140.71 L331.86,140.41 L332.35,140.11 L332.83,139.82 L333.32,139.52 L333.81,139.23 L334.29,138.94 L334.78,138.65 L335.27,138.36 L335.75,138.07 L336.24,137.78 L336.73,137.50 L337.21,137.21 L337.70,136.93 L338.19,136.65 L338.68,136.37 L339.16,136.09 L339.65,135.81 L340.14,135.53 L340.62,135.25 L341.11,134.98 L341.60,134.70 L342.08,134.43 L342.57,134.16 L343.06,133.89 L343.54,133.61 L344.03,133.35 L344.52,133.08 L345.00,132.81 L345.49,132.55 L345.98,132.28 L346.47,132.02 L346.95,131.75 L347.44,131.49 L347.93,131.23 L348.41,130.97 L348.90,130.71 L349.39,130.46 L349.87,130.20 L350.36,129.95 L350.85,129.69 L351.33,129.44 L351.82,129.19 L352.31,128.94 L352.79,128.69 L353.28,128.44 L353.77,128.19 L354.26,127.94 L354.74,127.70 L355.23,127.45 L355.72,127.21 L356.20,126.96 L356.69,126.72 L357.18,126.48 L357.66,126.24 L358.15,126.00 L358.64,125.77 L359.12,125.53 L359.61,125.29 L360.10,125.06 L360.59,124.83 L361.07,124.59 L361.56,124.36 L362.05,124.13 L362.53,123.90 L363.02,123.67 L363.51,123.45 L363.99,123.22 L364.48,122.99 L364.97,122.77 L365.45,122.54 L365.94,122.32 L366.43,122.10 L366.91,121.88 L367.40,121.66 L367.89,121.44 L368.38,121.22 L368.86,121.01 L369.35,120.79 L369.84,120.58 L370.32,120.36 L370.81,120.15 L371.30,119.94 L371.78,119.73 L372.27,119.52 L372.76,119.31 L373.24,119.10 L373.73,118.89 L374.22,118.69 L374.70,118.48 L375.19,118.28 L375.68,118.07 L376.17,117.87 L376.65,117.67 L377.14,117.47 L377.63,117.27 L378.11,117.07 L378.60,116.87" stroke="#ff0000" stroke-width="3.0" stroke-dasharray="12.1 3.37 4.4 3.37" stroke-dashoffset="0"/>
</g>
<path d="M69.30,319.2v-1.8M84.77,319.2v-1.8M100.23,319.2v-2.7M115.70,319.2v-1.8M131.16,319.2v-1.8M146.62,319.2v-1.8M162.09,319.2v-2.7M177.56,319.2v-1.8M193.02,319.2v-1.8M208.49,319.2v-1.8M223.95,319.2v-2.7M239.42,319.2v-1.8M254.88,319.2v-1.8M270.34,319.2v-1.8M285.81,319.2v-2.7M301.28,319.2v-1.8M316.74,319.2v-1.8M332.21,319.2v-1.8M347.67,319.2v-2.7M363.14,319.2v-1.8M378.60,319.2v-1.8M69.7,10.20h2.7M69.7,22.55h1.8M69.7,34.91h1.8M69.7,47.27h1.8M69.7,59.62h1.8M69.7,71.98h2.7M69.7,84.33h1.8M69.7,96.69h1.8M69.7,109.04h1.8M69.7,121.40h1.8M69.7,133.75h2.7M69.7,146.10h1.8M69.7,158.46h1.8M69.7,170.81h1.8M69.7,183.17h1.8M69.7,195.53h2.7M69.7,207.88h1.8M69.7,220.23h1.8M69.7,232.59h1.8M69.7,244.94h1.8M69.7,257.30h2.7M69.7,269.65h1.8M69.7,282.01h1.8M69.7,294.37h1.8M69.7,306.72h1.8M69.7,319.07h2.7" stroke="#000" stroke-width="0.9" fill="none"/>
<path d="M69.30,10.3v1.8M84.77,10.3v1.8M100.23,10.3v2.7M115.70,10.3v1.8M131.16,10.3v1.8M146.62,10.3v1.8M162.09,10.3v2.7M177.56,10.3v1.8M193.02,10.3v1.8M208.49,10.3v1.8M223.95,10.3v2.7M239.42,10.3v1.8M254.88,10.3v1.8M270.34,10.3v1.8M285.81,10.3v2.7M301.28,10.3v1.8M316.74,10.3v1.8M332.21,10.3v1.8M347.67,10.3v2.7M363.14,10.3v1.8M378.60,10.3v1.8M378.2,10.20h-2.7M378.2,22.55h-1.8M378.2,34.91h-1.8M378.2,47.27h-1.8M378.2,59.62h-1.8M378.2,71.98h-2.7M378.2,84.33h-1.8M378.2,96.69h-1.8M378.2,109.04h-1.8M378.2,121.40h-1.8M378.2,133.75h-2.7M378.2,146.10h-1.8M378.2,158.46h-1.8M378.2,170.81h-1.8M378.2,183.17h-1.8M378.2,195.53h-2.7M378.2,207.88h-1.8M378.2,220.23h-1.8M378.2,232.59h-1.8M378.2,244.94h-1.8M378.2,257.30h-2.7M378.2,269.65h-1.8M378.2,282.01h-1.8M378.2,294.37h-1.8M378.2,306.72h-1.8M378.2,319.07h-2.7" stroke="#000" stroke-width="0.45" fill="none"/>
<rect x="69.7" y="10.3" width="308.5" height="308.9" fill="none" stroke="#000" stroke-width="1.8"/>
<text x="67.4" y="16.10" font-size="16.5" text-anchor="end">50</text>
<text x="67.4" y="77.88" font-size="16.5" text-anchor="end">0</text>
<text x="67.4" y="139.65" font-size="16.5" text-anchor="end"><tspan letter-spacing="1.3">−</tspan>50</text>
<text x="67.4" y="201.43" font-size="16.5" text-anchor="end"><tspan letter-spacing="1.3">−</tspan>100</text>
<text x="67.4" y="263.20" font-size="16.5" text-anchor="end"><tspan letter-spacing="1.3">−</tspan>150</text>
<text x="67.4" y="324.97" font-size="16.5" text-anchor="end"><tspan letter-spacing="1.3">−</tspan>200</text>
<text x="100.73" y="337.4" font-size="16.1" text-anchor="middle">0.6</text>
<text x="162.59" y="337.4" font-size="16.1" text-anchor="middle">0.8</text>
<text x="224.45" y="337.4" font-size="16.1" text-anchor="middle">1.0</text>
<text x="286.31" y="337.4" font-size="16.1" text-anchor="middle">1.2</text>
<text x="348.17" y="337.4" font-size="16.1" text-anchor="middle">1.4</text>
<text transform="translate(223.9,364) scale(1.12,1)" font-size="17.3" text-anchor="middle">r(fm)</text>
<path d="M5.1,209.0L13.8,213.5L22.9,209.0M5.1,193.5L13.8,188.8L22.9,193.5" fill="none" stroke="#000" stroke-width="1.5" stroke-linejoin="miter"/>
<text transform="translate(19,206.9) rotate(-90) scale(0.87,1)" font-size="19.5">V</text>
<text transform="translate(22.9,187.9) rotate(-90)" font-size="14">N</text>
<text transform="translate(19,169.5) rotate(-90)" font-size="19.5" letter-spacing="0.45">(Me</text>
<text transform="translate(19,134.5) rotate(-90) scale(0.86,1)" font-size="19.5">V</text>
<text transform="translate(19,120.6) rotate(-90)" font-size="19.5">)</text>
<g fill="none" stroke-width="3">
<line x1="275.5" x2="301.3" y1="216.15" y2="216.15" stroke="#000"/>
<line x1="275.5" x2="301.3" y1="244.65" y2="244.65" stroke="#ff8000" stroke-dasharray="12.9 1.6"/>
<line x1="275.5" x2="301.3" y1="272.95" y2="272.95" stroke="#0000ff" stroke-dasharray="3.2 1.1"/>
<line x1="275.5" x2="301.3" y1="301.25" y2="301.25" stroke="#ff0000" stroke-dasharray="9 1.5 3.1 1.5"/>
</g>
<text x="310.6" y="219.15" font-size="16.3">N=4</text>
<text x="310.6" y="247.65" font-size="16.3">N=6</text>
<text x="310.6" y="275.95" font-size="16.3">N=8h</text>
<text x="310.6" y="304.25" font-size="16.3">N=12+1</text>
</svg></body></html>
